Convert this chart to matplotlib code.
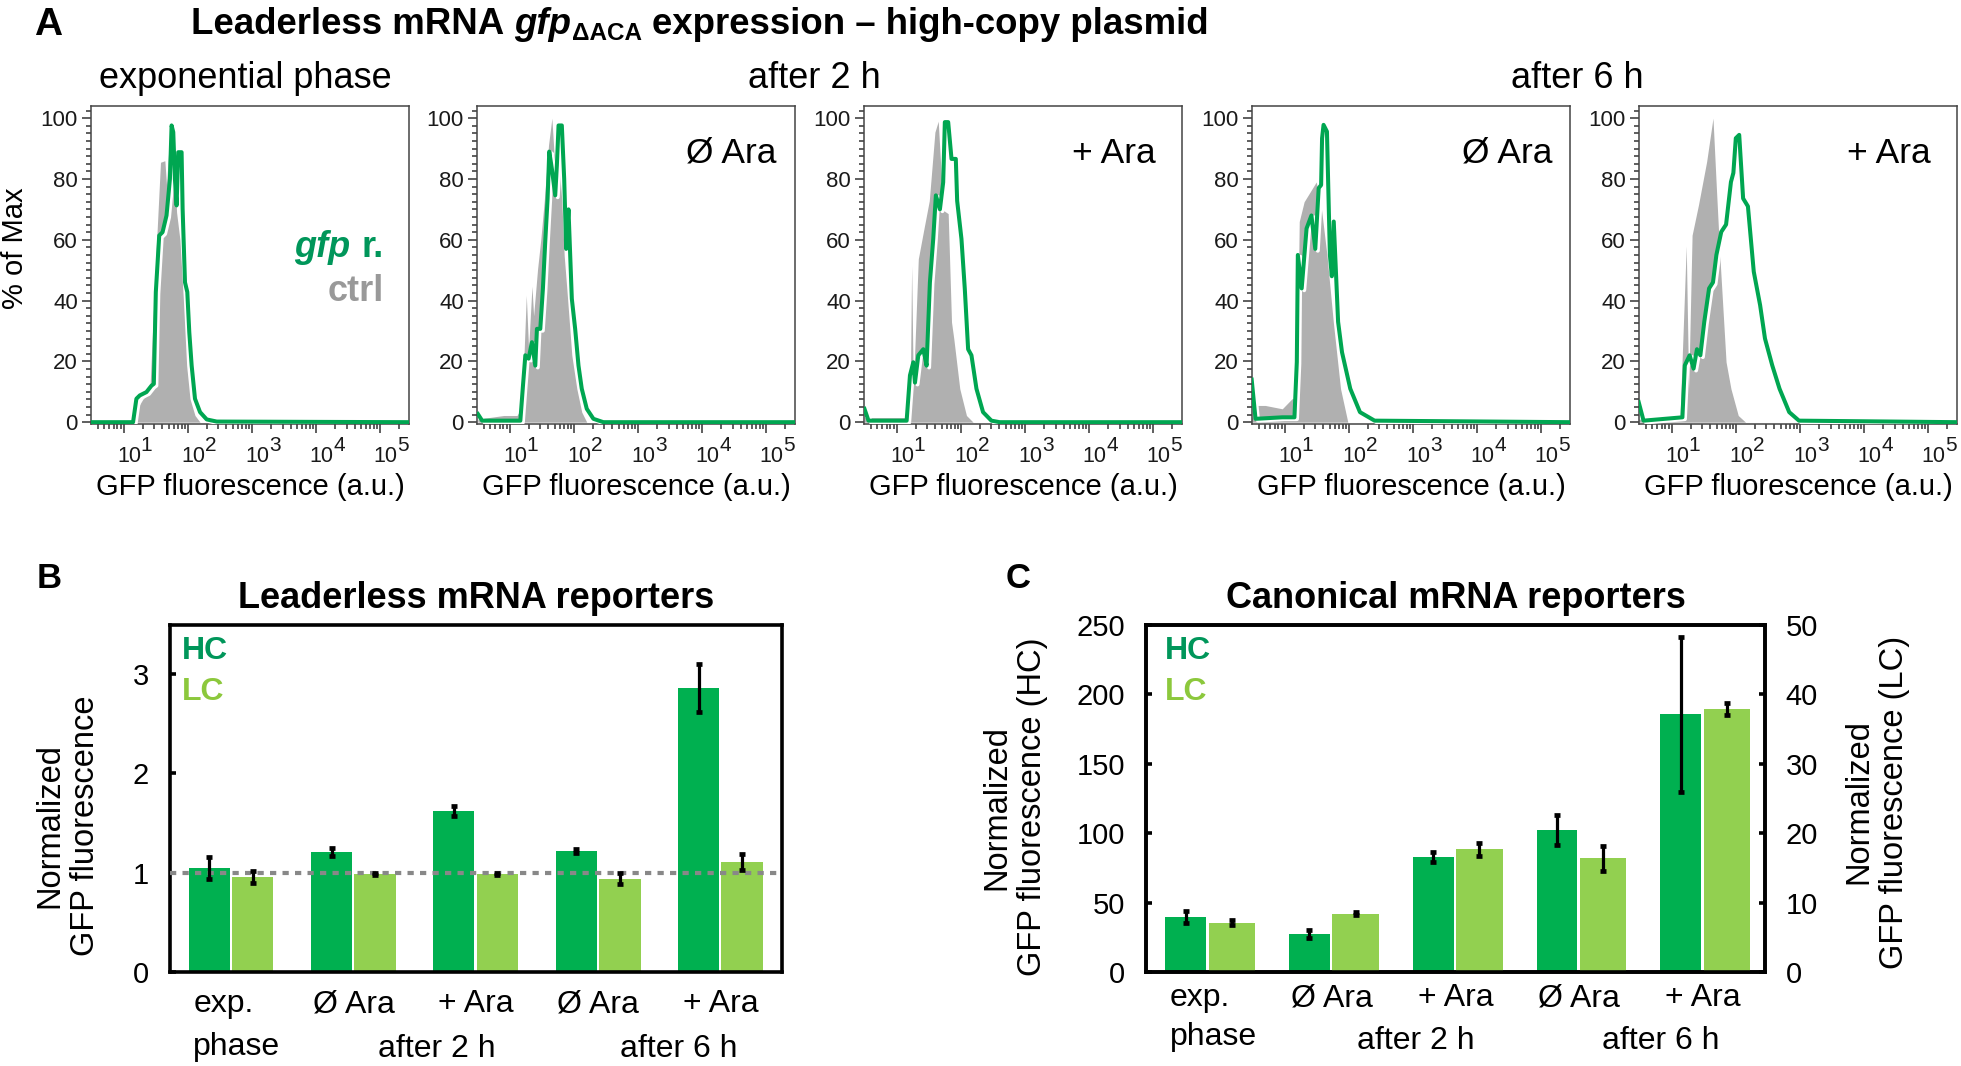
import numpy as np
import matplotlib
matplotlib.use('Agg')
import matplotlib.pyplot as plt
import matplotlib.patheffects as pe
from matplotlib.ticker import MultipleLocator, LogLocator, NullFormatter

plt.rcParams['font.family'] = ['Liberation Sans', 'DejaVu Sans']

# ---- panel A: flow histograms (x = log10 GFP fluorescence, y = % of max) ----
exp_gfp_logx = [0.48, 1.146, 1.198, 1.251, 1.355, 1.433, 1.470, 1.501, 1.554, 1.606, 1.668, 1.721, 1.747, 1.773,
                1.799, 1.825, 1.851, 1.903, 1.919, 1.956, 1.992, 2.023, 2.060, 2.112, 2.191, 2.295, 2.452, 5.45]
exp_gfp_pct = [0, 0, 7.7, 8.8, 9.9, 12.0, 12.6, 42.8, 61.4, 62.5, 68.0, 80.0, 97.6, 95.4,
               80.0, 71.3, 88.8, 88.8, 70.2, 46.0, 42.8, 29.6, 18.6, 7.7, 3.3, 0.9, 0.2, 0]
exp_ctrl_logx = [1.15, 1.198, 1.303, 1.407, 1.512, 1.574, 1.642, 1.668, 1.731, 1.773, 1.825, 1.877, 1.930, 1.982,
                 2.034, 2.112, 2.191]
exp_ctrl_pct = [0, 4.0, 7.7, 10.0, 59.0, 85.5, 86.0, 78.0, 98.7, 93.0, 69.0, 60.0, 40.6, 18.6, 7.7, 2.2, 0]

h2_noara_gfp_logx = [0.503, 0.570, 1.166, 1.207, 1.244, 1.295, 1.347, 1.399, 1.425, 1.477, 1.518, 1.554, 1.591,
                     1.617, 1.658, 1.710, 1.736, 1.762, 1.813, 1.850, 1.881, 1.917, 1.969, 2.021, 2.073, 2.124,
                     2.202, 2.306, 2.461, 5.45]
h2_noara_gfp_pct = [2.7, 0.5, 0.5, 12.0, 22.0, 20.9, 26.3, 18.6, 30.7, 30.7, 43.9, 59.2, 73.5, 89.0, 83.3, 74.6,
                    84.6, 97.6, 97.6, 80.0, 57.0, 70.0, 40.6, 30.7, 18.6, 11.0, 4.4, 1.1, 0, 0]
h2_noara_ctrl_logx = [0.503, 0.907, 1.114, 1.192, 1.259, 1.295, 1.347, 1.373, 1.435, 1.487, 1.539, 1.606, 1.658,
                      1.710, 1.762, 1.813, 1.850, 1.891, 1.969, 2.047, 2.124, 2.202]
h2_noara_ctrl_pct = [1.0, 2.2, 2.2, 5.0, 41.7, 24.0, 44.7, 35.0, 50.4, 60.5, 72.8, 91.2, 100.0, 82.0, 87.0, 72.8,
                     54.8, 43.9, 22.0, 11.0, 3.3, 0]

h2_ara_gfp_logx = [0.497, 0.560, 1.155, 1.207, 1.259, 1.285, 1.337, 1.415, 1.466, 1.518, 1.570, 1.611, 1.674,
                   1.725, 1.751, 1.803, 1.855, 1.922, 1.943, 2.010, 2.062, 2.114, 2.166, 2.244, 2.347, 2.477,
                   2.606, 5.45]
h2_ara_gfp_pct = [4.4, 0.5, 0.5, 15.4, 19.7, 13.0, 22.0, 24.0, 18.6, 46.0, 60.3, 74.6, 70.0, 78.9, 98.7, 98.7,
                  86.6, 86.6, 72.8, 60.3, 43.9, 24.0, 22.0, 11.0, 3.3, 0.5, 0, 0]
h2_ara_ctrl_logx = [0.497, 1.155, 1.207, 1.233, 1.259, 1.337, 1.415, 1.508, 1.596, 1.648, 1.725, 1.803, 1.855,
                    1.891, 1.984, 2.088, 2.192]
h2_ara_ctrl_pct = [1.5, 1.5, 2.0, 51.5, 11.0, 53.7, 62.5, 72.8, 95.4, 99.0, 69.7, 68.6, 32.9, 27.4, 11.0, 2.2, 0]

h6_noara_gfp_logx = [0.485, 0.545, 0.962, 1.152, 1.189, 1.205, 1.265, 1.341, 1.417, 1.477, 1.530, 1.568, 1.583,
                     1.606, 1.659, 1.705, 1.735, 1.765, 1.833, 1.894, 2.023, 2.174, 2.402, 5.45]
h6_noara_gfp_pct = [14.0, 1.1, 1.6, 1.6, 19.8, 55.0, 44.0, 63.7, 68.0, 57.0, 77.0, 78.0, 93.4, 97.8, 95.6, 55.0,
                    48.0, 66.0, 33.0, 23.0, 11.0, 3.3, 0.5, 0]
h6_noara_ctrl_logx = [0.485, 0.545, 0.697, 0.962, 1.114, 1.189, 1.227, 1.303, 1.492, 1.568, 1.659, 1.758, 1.871,
                      1.985]
h6_noara_ctrl_pct = [1.0, 5.5, 5.5, 4.4, 7.7, 8.0, 66.0, 72.5, 79.0, 71.0, 55.0, 33.0, 11.0, 0]

h6_ara_gfp_logx = [0.485, 0.561, 1.167, 1.205, 1.280, 1.341, 1.394, 1.447, 1.508, 1.583, 1.644, 1.697, 1.773,
                   1.848, 1.924, 1.962, 2.000, 2.053, 2.114, 2.189, 2.280, 2.379, 2.455, 2.568, 2.682, 2.833,
                   2.985, 5.45]
h6_ara_gfp_pct = [6.6, 0.5, 1.6, 18.7, 22.0, 17.6, 24.0, 22.0, 33.0, 44.0, 46.0, 55.0, 62.6, 65.0, 79.0, 82.0,
                  93.4, 94.5, 73.6, 71.0, 49.5, 38.5, 27.5, 18.7, 11.0, 3.3, 0.5, 0]
h6_ara_ctrl_logx = [0.485, 1.129, 1.227, 1.265, 1.318, 1.417, 1.545, 1.644, 1.697, 1.750, 1.848, 1.924, 2.038,
                    2.152]
h6_ara_ctrl_pct = [1.0, 1.0, 58.0, 11.0, 61.5, 71.4, 85.7, 100.0, 77.0, 55.0, 19.8, 11.0, 2.2, 0]

hist_conditions = ['', 'Ø Ara', '+ Ara', 'Ø Ara', '+ Ara']
decades = [1, 2, 3, 4, 5]

# ---- panels B and C ----
group_labels = ['exp.', 'Ø Ara', '+ Ara', 'Ø Ara', '+ Ara']
lead_hc = [1.05, 1.21, 1.62, 1.22, 2.86]
lead_hc_err = [0.11, 0.04, 0.05, 0.02, 0.24]
lead_lc = [0.96, 0.99, 0.99, 0.94, 1.11]
lead_lc_err = [0.06, 0.01, 0.01, 0.055, 0.08]

canon_hc = [39.4, 27.5, 83.2, 102.3, 185.7]
canon_hc_err = [4.4, 3.0, 3.6, 11.0, 55.8]
canon_lc = [7.1, 8.4, 17.7, 16.4, 37.9]
canon_lc_err = [0.36, 0.24, 0.93, 1.8, 0.9]

GFP = '#00A651'
CTRL = '#B0B0B0'
HC = '#00B050'
LC = '#92D050'
HC_TXT = '#00965A'
LC_TXT = '#8CC83C'

W, H = 1961, 1066


def box(l, t, r, b):
    return [l / W, 1 - b / H, (r - l) / W, (b - t) / H]


fig = plt.figure(figsize=(W / 100, H / 100), dpi=100)
renderer = fig.canvas.get_renderer()

# ---------------- panel A ----------------
hist_data = [
    (exp_gfp_logx, exp_gfp_pct, exp_ctrl_logx, exp_ctrl_pct),
    (h2_noara_gfp_logx, h2_noara_gfp_pct, h2_noara_ctrl_logx, h2_noara_ctrl_pct),
    (h2_ara_gfp_logx, h2_ara_gfp_pct, h2_ara_ctrl_logx, h2_ara_ctrl_pct),
    (h6_noara_gfp_logx, h6_noara_gfp_pct, h6_noara_ctrl_logx, h6_noara_ctrl_pct),
    (h6_ara_gfp_logx, h6_ara_gfp_pct, h6_ara_ctrl_logx, h6_ara_ctrl_pct),
]
hist_left = [91, 477, 864, 1252, 1639]

for i, (gx, gy, cx, cy) in enumerate(hist_data):
    ax = fig.add_axes(box(hist_left[i], 106, hist_left[i] + 318, 424))
    ax.fill_between(10 ** np.array(cx), cy, color=CTRL, lw=0, zorder=1)
    ax.plot(10 ** np.array(gx), gy, color=GFP, lw=2.9, zorder=3, solid_joinstyle='round',
            path_effects=[pe.SimpleLineShadow(offset=(1.8, -1.3), shadow_color='white', alpha=1), pe.Normal()])
    ax.set_xscale('log')
    ax.set_xlim(10 ** 0.49, 10 ** 5.45)
    ax.set_ylim(-0.6, 104)
    ax.xaxis.set_major_locator(LogLocator(base=10, numticks=10))
    ax.xaxis.set_minor_locator(LogLocator(base=10, subs=np.arange(2, 10), numticks=20))
    ax.xaxis.set_major_formatter(NullFormatter())
    ax.xaxis.set_minor_formatter(NullFormatter())
    ax.yaxis.set_major_locator(MultipleLocator(20))
    ax.yaxis.set_minor_locator(MultipleLocator(2.5))
    ax.tick_params(which='both', direction='out', color='#333333', width=1.1, labelcolor='#1a1a1a')
    ax.tick_params(which='major', length=6.5, pad=3)
    ax.tick_params(which='minor', length=3.5)
    ax.tick_params(axis='y', labelsize=16)
    for s in ax.spines.values():
        s.set_color('#444444')
        s.set_linewidth(1.1)
    # decade labels: "10" with a large exponent, set slightly right of the tick
    for k in decades:
        ax.annotate('10', xy=(10 ** k, 0), xycoords=('data', 'axes fraction'), xytext=(3.8, -16),
                    textcoords='offset points', ha='center', va='top', fontsize=15.5, color='#1a1a1a')
        ax.annotate(str(k), xy=(10 ** k, 0), xycoords=('data', 'axes fraction'), xytext=(12.3, -8.4),
                    textcoords='offset points', ha='left', va='top', fontsize=15, color='#1a1a1a')
    ax.text(0.5, -0.198, 'GFP fluorescence (a.u.)', transform=ax.transAxes, ha='center', va='center',
            fontsize=21)
    if hist_conditions[i]:
        right = 1 - 18 / 318 if hist_conditions[i].startswith('Ø') else 1 - 26 / 318
        ax.text(right, 0.821, hist_conditions[i], transform=ax.transAxes, ha='right', va='baseline',
                fontsize=25.5)

fig.text(15 / W, 1 - 248 / H, '% of Max', rotation=90, ha='center', va='center', fontsize=21)

# gfp r. / ctrl legend in first histogram
t_r = fig.text(384 / W, 1 - 257 / H, 'r.', fontsize=26, fontweight='bold', color=HC_TXT, ha='right',
               va='baseline')
bb = t_r.get_window_extent(renderer)
fig.text((bb.x0 - 11) / W, 1 - 257 / H, 'gfp', fontsize=26, fontweight='bold', fontstyle='italic',
         color=HC_TXT, ha='right', va='baseline')
fig.text(384 / W, 1 - 301 / H, 'ctrl', fontsize=26, fontweight='bold', color='#999999', ha='right',
         va='baseline')

# section titles
fig.text(245 / W, 1 - 88 / H, 'exponential phase', fontsize=26, ha='center', va='baseline')
fig.text(814 / W, 1 - 88 / H, 'after 2 h', fontsize=26, ha='center', va='baseline')
fig.text(1577 / W, 1 - 88 / H, 'after 6 h', fontsize=26, ha='center', va='baseline')

# main title built in pieces (italic gene name + subscript)
base = 1 - 34 / H
t1 = fig.text(191 / W, base, 'Leaderless mRNA', fontsize=26.4, fontweight='bold', va='baseline')
x = t1.get_window_extent(renderer).x1 + 10
t2 = fig.text(x / W, base, 'gfp', fontsize=26.4, fontweight='bold', fontstyle='italic', va='baseline')
x = t2.get_window_extent(renderer).x1 + 1
t3 = fig.text(x / W, base - 6 / H, 'ΔACA', fontsize=17.5, fontweight='bold', va='baseline')
x = t3.get_window_extent(renderer).x1 + 10
fig.text(x / W, base, 'expression – high-copy plasmid', fontsize=26.4, fontweight='bold', va='baseline')

# panel letters
fig.text(48 / W, 1 - 25 / H, 'A', fontsize=28, fontweight='bold', ha='center', va='center')
fig.text(49 / W, 1 - 578 / H, 'B', fontsize=25, fontweight='bold', ha='center', va='center')
fig.text(1018 / W, 1 - 578 / H, 'C', fontsize=25, fontweight='bold', ha='center', va='center')

groups = np.arange(len(group_labels))
err_kw = dict(fmt='none', ecolor='black', elinewidth=2.3, capsize=2.2, capthick=3.4, zorder=4)


def bar_axes_style(ax):
    ax.set_xlim(-0.5, 4.5)
    ax.set_xticks([])
    for s in ax.spines.values():
        s.set_linewidth(2.6)
        s.set_color('black')
    ax.tick_params(axis='y', direction='in', length=4.5, width=2.6, labelsize=21, pad=15)


def group_text(ax, y1, y2, y_after):
    tr = ax.get_xaxis_transform()
    for g, lab in zip(groups, group_labels):
        if g == 0:
            ax.text(-0.31, y1, 'exp.', transform=tr, ha='left', va='center', fontsize=23)
            ax.text(-0.31, y2, 'phase', transform=tr, ha='left', va='center', fontsize=23)
        else:
            ax.text(g, y1, lab, transform=tr, ha='center', va='center', fontsize=23)
    ax.text(1.68, y_after, 'after 2 h', transform=tr, ha='center', va='center', fontsize=23)
    ax.text(3.66, y_after, 'after 6 h', transform=tr, ha='center', va='center', fontsize=23)


def hc_lc_legend(ax, x0):
    ax.text(x0, 0.925, 'HC', transform=ax.transAxes, ha='left', va='center', fontsize=23,
            fontweight='bold', color=HC_TXT, zorder=6)
    ax.text(x0, 0.807, 'LC', transform=ax.transAxes, ha='left', va='center', fontsize=23,
            fontweight='bold', color=LC_TXT, zorder=6)


# ---------------- panel B ----------------
axB = fig.add_axes(box(170, 625, 782, 972))
axB.bar(groups - 0.18, lead_hc, 0.335, color=HC, zorder=2)
axB.bar(groups + 0.175, lead_lc, 0.34, color=LC, zorder=2)
axB.axhline(1, color='#888888', lw=3.0, ls=(0, (1.5, 1.5)), zorder=3)
axB.errorbar(groups - 0.18, lead_hc, yerr=lead_hc_err, **err_kw)
axB.errorbar(groups + 0.175, lead_lc, yerr=lead_lc_err, **err_kw)
axB.set_ylim(0, 3.49)
axB.set_yticks([0, 1, 2, 3])
bar_axes_style(axB)
group_text(axB, -0.093, -0.216, -0.222)
hc_lc_legend(axB, 0.02)
axB.set_title('Leaderless mRNA reporters', fontsize=26, fontweight='bold', pad=12)
fig.text(67.5 / W, 1 - 826 / H, 'Normalized\nGFP fluorescence', rotation=90, ha='center', va='center',
         multialignment='center', fontsize=23.5, linespacing=1.2)

# ---------------- panel C ----------------
axC = fig.add_axes(box(1146, 625, 1765, 972))
axC2 = axC.twinx()
axC.bar(groups - 0.18, canon_hc, 0.33, color=HC, zorder=2)
axC.errorbar(groups - 0.18, canon_hc, yerr=canon_hc_err, **err_kw)
axC2.bar(groups + 0.193, canon_lc, 0.375, color=LC, zorder=2)
axC2.errorbar(groups + 0.193, canon_lc, yerr=canon_lc_err, **err_kw)
axC.set_ylim(0, 250)
axC.set_yticks([0, 50, 100, 150, 200, 250])
axC2.set_ylim(0, 50)
axC2.set_yticks([0, 10, 20, 30, 40, 50])
bar_axes_style(axC)
bar_axes_style(axC2)
group_text(axC, -0.075, -0.188, -0.198)
hc_lc_legend(axC2, 0.031)
axC.set_title('Canonical mRNA reporters', fontsize=26, fontweight='bold', pad=12)
fig.text(1014.5 / W, 1 - 807 / H, 'Normalized\nGFP fluorescence (HC)', rotation=90, ha='center',
         va='center', multialignment='center', fontsize=23.5, linespacing=1.2)
fig.text(1876.5 / W, 1 - 802 / H, 'Normalized\nGFP fluorescence (LC)', rotation=90, ha='center',
         va='center', multialignment='center', fontsize=23.5, linespacing=1.2)

fig.savefig('out.png', dpi=100)
